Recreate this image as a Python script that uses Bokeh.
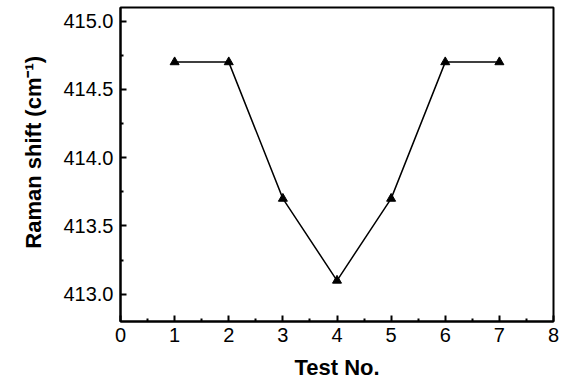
from bokeh.plotting import figure
from bokeh.embed import file_html
from bokeh.resources import INLINE
from bokeh.models import Range1d, FixedTicker, CustomJSTickFormatter

test_no = [1, 2, 3, 4, 5, 6, 7]
raman_shift = [414.7, 414.7, 413.7, 413.1, 413.7, 414.7, 414.7]
x_ticks = [0, 1, 2, 3, 4, 5, 6, 7, 8]
x_minor = [0.5, 1.5, 2.5, 3.5, 4.5, 5.5, 6.5, 7.5]
y_ticks = [413.0, 413.5, 414.0, 414.5, 415.0]
y_minor = [412.75, 413.25, 413.75, 414.25, 414.75]
y_title = "Raman shift (cm\u207b\u00b9)"
x_title = "Test No."

p = figure(width=565, height=382, output_backend="svg", toolbar_location=None,
           x_range=Range1d(0, 8), y_range=Range1d(412.8, 415.1),
           min_border_left=120, min_border_right=12, min_border_top=7, min_border_bottom=61)
p.grid.visible = False
p.outline_line_color = "black"
p.outline_line_width = 2

p.line(test_no, raman_shift, line_color="black", line_width=1.5)
p.scatter(test_no, raman_shift, marker="triangle", size=9, color="black")

p.xaxis.ticker = FixedTicker(ticks=x_ticks, minor_ticks=x_minor)
p.yaxis.ticker = FixedTicker(ticks=y_ticks, minor_ticks=y_minor)
p.yaxis.formatter = CustomJSTickFormatter(code="return tick.toFixed(1);")

for ax in (p.xaxis[0], p.yaxis[0]):
    ax.axis_line_width = 2
    ax.major_tick_in = 6
    ax.major_tick_out = 0
    ax.minor_tick_in = 3
    ax.minor_tick_out = 0
    ax.major_tick_line_width = 2
    ax.minor_tick_line_width = 2
    ax.major_label_text_font = "Liberation Sans"
    ax.major_label_text_font_size = "20px"
    ax.major_label_text_color = "black"
    ax.axis_label_text_font = "Liberation Sans"
    ax.axis_label_text_font_size = "22px"
    ax.axis_label_text_font_style = "bold"
    ax.axis_label_text_color = "black"

p.xaxis.axis_label = x_title
p.yaxis.axis_label = "\u00a0\u00a0\u00a0\u00a0" + y_title
p.xaxis.major_label_standoff = 6
p.yaxis.major_label_standoff = 7
p.xaxis.axis_label_standoff = 10
p.yaxis.axis_label_standoff = 14

open("out.html", "w").write(file_html(p, INLINE))
